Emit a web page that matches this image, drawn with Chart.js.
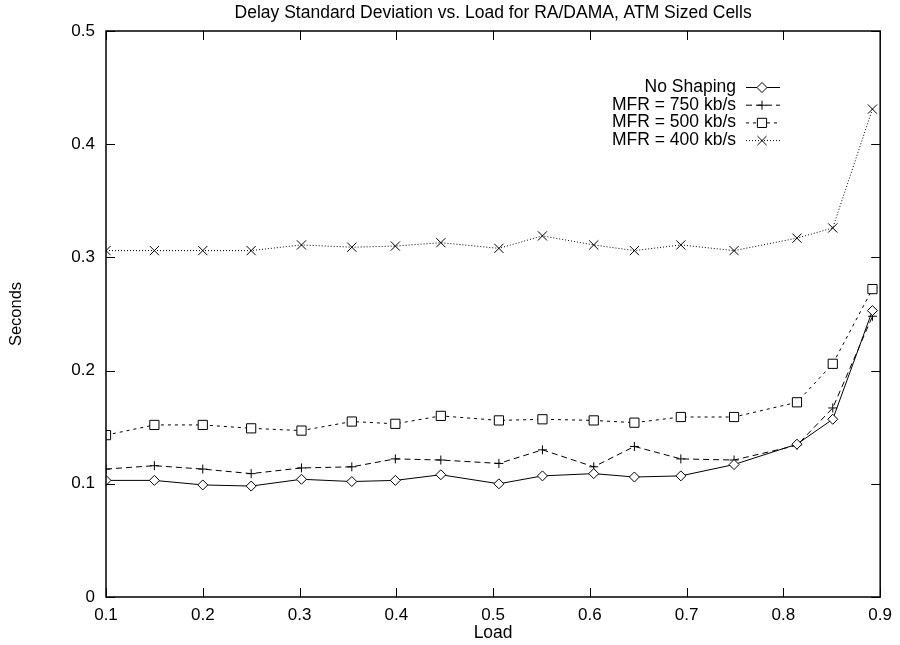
<!DOCTYPE html>
<html>
<head>
<meta charset="utf-8">
<script src="https://cdn.jsdelivr.net/npm/chart.js@4.4.1/dist/chart.umd.min.js"></script>
<style>
  html, body { margin: 0; padding: 0; background: #fff; }
</style>
</head>
<body>
<canvas id="chart" width="900" height="645"></canvas>
<script>
const chartTitle = 'Delay Standard Deviation vs. Load for RA/DAMA, ATM Sized Cells';
const loads = [0.1, 0.15, 0.2, 0.25, 0.302, 0.354, 0.399, 0.446, 0.506, 0.551, 0.604, 0.646, 0.694, 0.749, 0.814, 0.851, 0.892];
const seriesNames = ['No Shaping', 'MFR = 750 kb/s', 'MFR = 500 kb/s', 'MFR = 400 kb/s'];
const noShaping = [0.103, 0.103, 0.099, 0.098, 0.104, 0.102, 0.103, 0.108, 0.100, 0.107, 0.109, 0.106, 0.107, 0.117, 0.135, 0.157, 0.253];
const mfr750 = [0.113, 0.116, 0.113, 0.109, 0.114, 0.115, 0.122, 0.121, 0.118, 0.130, 0.115, 0.133, 0.122, 0.121, 0.134, 0.167, 0.248];
const mfr500 = [0.143, 0.152, 0.152, 0.149, 0.147, 0.155, 0.153, 0.160, 0.156, 0.157, 0.156, 0.154, 0.159, 0.159, 0.172, 0.206, 0.272];
const mfr400 = [0.306, 0.306, 0.306, 0.306, 0.311, 0.309, 0.310, 0.313, 0.308, 0.319, 0.311, 0.306, 0.311, 0.306, 0.317, 0.326, 0.431];
const xTicks = [0.1, 0.2, 0.3, 0.4, 0.5, 0.6, 0.7, 0.8, 0.9];
const yTicks = [0, 0.1, 0.2, 0.3, 0.4, 0.5];

const FONT = 'Liberation Sans, Arial, Helvetica, sans-serif';

function pts(ys) {
  return loads.map((x, i) => ({ x: x, y: ys[i] }));
}

function series(label, ys, style, radius, dash) {
  return {
    label: label,
    data: pts(ys),
    borderColor: '#000',
    borderWidth: 1,
    borderDash: dash,
    pointStyle: style,
    pointRadius: radius,
    pointBorderWidth: 1,
    pointBorderColor: '#000',
    pointBackgroundColor: '#fff',
    fill: false,
    tension: 0
  };
}

// box with inward ticks on all four sides, gnuplot style
const frame = {
  id: 'frame',
  afterDatasetsDraw(chart) {
    const ctx = chart.ctx;
    const a = chart.chartArea;
    const len = 9;
    ctx.save();
    ctx.strokeStyle = '#000';
    ctx.lineWidth = 1.5;
    ctx.strokeRect(a.left, a.top, a.right - a.left, a.bottom - a.top);
    ctx.lineWidth = 1;
    ctx.beginPath();
    chart.scales.x.ticks.forEach(t => {
      const px = Math.round(chart.scales.x.getPixelForValue(t.value)) + 0.5;
      ctx.moveTo(px, a.bottom); ctx.lineTo(px, a.bottom - len);
      ctx.moveTo(px, a.top); ctx.lineTo(px, a.top + len);
    });
    chart.scales.y.ticks.forEach(t => {
      const py = Math.round(chart.scales.y.getPixelForValue(t.value)) + 0.5;
      ctx.moveTo(a.left, py); ctx.lineTo(a.left + len, py);
      ctx.moveTo(a.right, py); ctx.lineTo(a.right - len, py);
    });
    ctx.stroke();

    // title
    ctx.fillStyle = '#000';
    ctx.font = '17.5px ' + FONT;
    ctx.textAlign = 'center';
    ctx.textBaseline = 'middle';
    ctx.fillText(chartTitle, (a.left + a.right) / 2, 13);

    // legend inside the plot, text right aligned, sample to the right
    const textRight = 736, x0 = 746, x1 = 780, mid = 762;
    ctx.textAlign = 'right';
    chart.data.datasets.forEach((ds, i) => {
      const y = 87 + i * 17.7;
      ctx.fillStyle = '#000';
      ctx.fillText(ds.label, textRight, y);
      ctx.save();
      ctx.strokeStyle = '#000';
      ctx.lineWidth = 1;
      ctx.setLineDash(ds.borderDash || []);
      ctx.beginPath();
      ctx.moveTo(x0, y + 0.5); ctx.lineTo(x1, y + 0.5);
      ctx.stroke();
      ctx.setLineDash([]);
      ctx.fillStyle = '#fff';
      Chart.helpers.drawPoint(ctx, {
        pointStyle: ds.pointStyle, radius: ds.pointRadius, borderWidth: 1, rotation: 0
      }, mid, y + 0.5);
      ctx.restore();
    });
    ctx.restore();
  }
};

new Chart(document.getElementById('chart'), {
  type: 'line',
  data: {
    datasets: [
      series(seriesNames[0], noShaping, 'rectRot', 5, []),
      series(seriesNames[1], mfr750, 'cross', 4.5, [6, 4]),
      series(seriesNames[2], mfr500, 'rect', 6.5, [3, 4]),
      series(seriesNames[3], mfr400, 'crossRot', 6.5, [1, 2])
    ]
  },
  options: {
    responsive: false,
    animation: false,
    layout: { padding: { top: 31, right: 18, left: 0, bottom: 0 } },
    plugins: {
      legend: { display: false },
      title: { display: false },
      tooltip: { enabled: false }
    },
    scales: {
      x: {
        type: 'linear',
        min: 0.1,
        max: 0.9,
        afterBuildTicks: s => { s.ticks = xTicks.map(v => ({ value: v })); },
        afterFit: s => { s.height = 48; },
        grid: { display: false, drawTicks: false },
        border: { display: false },
        ticks: {
          color: '#000',
          padding: 8,
          font: { family: FONT, size: 17 },
          callback: v => v.toFixed(1)
        },
        title: {
          display: true,
          text: 'Load',
          color: '#000',
          font: { family: FONT, size: 17.5 },
          padding: { top: 0, bottom: 1.5 }
        }
      },
      y: {
        min: 0,
        max: 0.5,
        afterBuildTicks: s => { s.ticks = yTicks.map(v => ({ value: v })); },
        afterFit: s => { s.width = 106; },
        grid: { display: false, drawTicks: false },
        border: { display: false },
        ticks: {
          color: '#000',
          padding: 11,
          font: { family: FONT, size: 17 },
          callback: v => (v === 0 ? '0' : v.toFixed(1))
        },
        title: {
          display: true,
          text: 'Seconds',
          color: '#000',
          font: { family: FONT, size: 16.5 },
          padding: { top: 7, bottom: 0 }
        }
      }
    }
  },
  plugins: [frame]
});
</script>
</body>
</html>
